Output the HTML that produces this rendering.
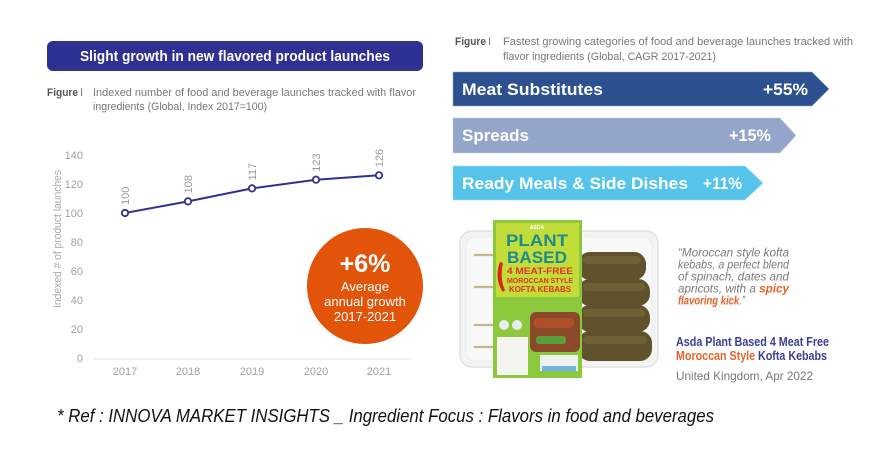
<!DOCTYPE html>
<html><head><meta charset="utf-8"><style>
html,body{margin:0;padding:0;background:#fff;}
svg{display:block;}
text{font-family:"Liberation Sans",sans-serif;}
</style></head><body>
<svg width="878" height="455" viewBox="0 0 878 455" xmlns="http://www.w3.org/2000/svg">
<rect width="878" height="455" fill="#fff"/>
<!-- Banner -->
<rect x="47" y="41" width="376" height="30" rx="6" fill="#2e3192"/>
<text x="235" y="61" fill="#fff" font-size="14.5" font-weight="bold" text-anchor="middle" textLength="310" lengthAdjust="spacingAndGlyphs">Slight growth in new flavored product launches</text>
<!-- Left figure caption -->
<text x="47" y="96" fill="#555" font-size="11" font-weight="bold" textLength="31" lengthAdjust="spacingAndGlyphs">Figure</text>
<text x="80" y="96" fill="#777" font-size="11">I</text>
<text x="93" y="96" fill="#777" font-size="11" textLength="323" lengthAdjust="spacingAndGlyphs">Indexed number of food and beverage launches tracked with flavor</text>
<text x="93" y="110" fill="#777" font-size="11" textLength="174" lengthAdjust="spacingAndGlyphs">ingredients (Global, Index 2017=100)</text>
<!-- Y axis labels -->
<g fill="#a0a0a0" font-size="11" text-anchor="end">
<text x="83" y="159">140</text>
<text x="83" y="188">120</text>
<text x="83" y="217">100</text>
<text x="83" y="246">80</text>
<text x="83" y="275">60</text>
<text x="83" y="304">40</text>
<text x="83" y="333">20</text>
<text x="83" y="362">0</text>
</g>
<text transform="translate(61,239) rotate(-90)" fill="#aaa" font-size="11" text-anchor="middle" textLength="138" lengthAdjust="spacingAndGlyphs">Indexed # of product launches</text>
<line x1="93" y1="359" x2="412" y2="359" stroke="#e4e4e4" stroke-width="1"/>
<g fill="#a0a0a0" font-size="11" text-anchor="middle">
<text x="125" y="375">2017</text>
<text x="188" y="375">2018</text>
<text x="252" y="375">2019</text>
<text x="316" y="375">2020</text>
<text x="379" y="375">2021</text>
</g>
<!-- Line -->
<polyline points="125,213 188,201.4 252,188.4 316,179.7 379,175.3" fill="none" stroke="#2e3192" stroke-width="2"/>
<g fill="#fff" stroke="#2e3192" stroke-width="1.8">
<circle cx="125" cy="213" r="3.2"/>
<circle cx="188" cy="201.4" r="3.2"/>
<circle cx="252" cy="188.4" r="3.2"/>
<circle cx="316" cy="179.7" r="3.2"/>
<circle cx="379" cy="175.3" r="3.2"/>
</g>
<g fill="#999" font-size="11">
<text transform="translate(129,205) rotate(-90)">100</text>
<text transform="translate(192,193.4) rotate(-90)">108</text>
<text transform="translate(256,180.4) rotate(-90)">117</text>
<text transform="translate(320,171.7) rotate(-90)">123</text>
<text transform="translate(383,167.3) rotate(-90)">126</text>
</g>
<!-- Orange circle -->
<circle cx="365" cy="286" r="58" fill="#e1540a"/>
<text x="365" y="272" fill="#fff" font-size="25" font-weight="bold" text-anchor="middle">+6%</text>
<g fill="#fff" font-size="13" text-anchor="middle">
<text x="365" y="291">Average</text>
<text x="365" y="306">annual growth</text>
<text x="365" y="321">2017-2021</text>
</g>
<!-- Right caption -->
<text x="455" y="45" fill="#555" font-size="11" font-weight="bold" textLength="31" lengthAdjust="spacingAndGlyphs">Figure</text>
<text x="488" y="45" fill="#777" font-size="11">I</text>
<text x="503" y="45" fill="#777" font-size="11" textLength="350" lengthAdjust="spacingAndGlyphs">Fastest growing categories of food and beverage launches tracked with</text>
<text x="503" y="60" fill="#777" font-size="11" textLength="213" lengthAdjust="spacingAndGlyphs">flavor ingredients (Global, CAGR 2017-2021)</text>
<!-- Bars -->
<polygon points="453,72 812,72 829,89 812,106 453,106" fill="#2c5090" stroke="#8aa0c8" stroke-width="0.6"/>
<text x="462" y="95" fill="#fff" font-size="17" font-weight="bold" textLength="141" lengthAdjust="spacingAndGlyphs">Meat Substitutes</text>
<text x="808" y="95" fill="#fff" font-size="17" font-weight="bold" text-anchor="end" textLength="45" lengthAdjust="spacingAndGlyphs">+55%</text>
<polygon points="453,118 780,118 796,135.5 780,153 453,153" fill="#93a5c9" stroke="#c3cde2" stroke-width="0.6"/>
<text x="462" y="141" fill="#fff" font-size="17" font-weight="bold" textLength="67" lengthAdjust="spacingAndGlyphs">Spreads</text>
<text x="771" y="141" fill="#fff" font-size="17" font-weight="bold" text-anchor="end" textLength="42" lengthAdjust="spacingAndGlyphs">+15%</text>
<polygon points="453,166 745,166 763,183 745,200 453,200" fill="#56c3ea" stroke="#a6def3" stroke-width="0.6"/>
<text x="462" y="189" fill="#fff" font-size="17" font-weight="bold" textLength="226" lengthAdjust="spacingAndGlyphs">Ready Meals &amp; Side Dishes</text>
<text x="742" y="189" fill="#fff" font-size="17" font-weight="bold" text-anchor="end" textLength="39" lengthAdjust="spacingAndGlyphs">+11%</text>
<!-- Product image -->
<rect x="460" y="231" width="198" height="136" rx="12" fill="#f3f3f3" stroke="#e2e2e2" stroke-width="1.5"/>
<rect x="466" y="237" width="186" height="124" rx="9" fill="#f8f8f8" stroke="#ececec" stroke-width="1"/>
<g stroke="#c8b48e" stroke-width="2.2">
<line x1="474" y1="255" x2="500" y2="255"/>
<line x1="474" y1="287" x2="500" y2="287"/>
<line x1="474" y1="325" x2="500" y2="325"/>
<line x1="474" y1="347" x2="500" y2="347"/>
</g>
<g fill="#5f522d">
<rect x="578" y="252" width="68" height="28" rx="12"/>
<rect x="578" y="279" width="72" height="27" rx="12"/>
<rect x="578" y="305" width="72" height="27" rx="12"/>
<rect x="578" y="331" width="74" height="30" rx="12"/>
</g>
<g fill="#7a6a3c" opacity="0.6">
<rect x="583" y="256" width="58" height="8" rx="4"/>
<rect x="583" y="283" width="62" height="8" rx="4"/>
<rect x="583" y="309" width="62" height="8" rx="4"/>
<rect x="583" y="336" width="64" height="8" rx="4"/>
</g>
<rect x="493" y="220" width="89" height="158" fill="#8cc83c"/>
<rect x="496" y="223" width="83" height="74" fill="#cfe13a" opacity="0.8"/>
<text x="537" y="229" fill="#fff" font-size="5" font-weight="bold" text-anchor="middle">ASDA</text>
<text x="537" y="246" fill="#1e8c8c" font-size="17" font-weight="bold" text-anchor="middle" textLength="62" lengthAdjust="spacingAndGlyphs">PLANT</text>
<text x="537" y="263" fill="#1e8c8c" font-size="17" font-weight="bold" text-anchor="middle" textLength="60" lengthAdjust="spacingAndGlyphs">BASED</text>
<g fill="#e03224" font-weight="bold" text-anchor="middle">
<text x="540" y="274" font-size="9" textLength="66" lengthAdjust="spacingAndGlyphs">4 MEAT-FREE</text>
<text x="540" y="283" font-size="7" textLength="66" lengthAdjust="spacingAndGlyphs">MOROCCAN STYLE</text>
<text x="540" y="292" font-size="8" textLength="62" lengthAdjust="spacingAndGlyphs">KOFTA KEBABS</text>
</g>
<path d="M500,262 C496,272 497,284 503,292 L505,290 C501,282 501,272 503,263 Z" fill="#d8261c"/>
<rect x="530" y="312" width="50" height="40" rx="6" fill="#8a4a2a"/>
<rect x="534" y="318" width="40" height="10" rx="4" fill="#b0502a"/>
<rect x="536" y="336" width="30" height="8" rx="3" fill="#5aa03a"/>
<rect x="497" y="337" width="31" height="38" fill="#f4f4f0"/>
<rect x="540" y="355" width="38" height="16" fill="#eef2ee"/>
<rect x="542" y="366" width="34" height="5" fill="#6fb3e0"/>
<circle cx="504" cy="325" r="5" fill="#e8eef0"/>
<circle cx="517" cy="325" r="5" fill="#e8eef0"/>
<!-- Quote -->
<g fill="#7a7a7a" font-size="11.5" font-style="italic">
<text x="678" y="256.5" textLength="111" lengthAdjust="spacingAndGlyphs">“Moroccan style kofta</text>
<text x="678" y="268.5" textLength="111" lengthAdjust="spacingAndGlyphs">kebabs, a perfect blend</text>
<text x="678" y="280.5" textLength="111" lengthAdjust="spacingAndGlyphs">of spinach, dates and</text>
<text x="678" y="292.5" textLength="111" lengthAdjust="spacingAndGlyphs">apricots, with a <tspan fill="#e8622a" font-weight="bold">spicy</tspan></text>
<text x="678" y="304.5" textLength="67" lengthAdjust="spacingAndGlyphs"><tspan fill="#e8622a" font-weight="bold">flavoring kick</tspan>.”</text>
</g>
<text x="676" y="346" fill="#3a3f96" font-size="12.5" font-weight="bold" textLength="153" lengthAdjust="spacingAndGlyphs">Asda Plant Based 4 Meat Free</text>
<text x="676" y="360" font-size="12.5" font-weight="bold" textLength="151" lengthAdjust="spacingAndGlyphs"><tspan fill="#e8622a">Moroccan Style</tspan><tspan fill="#3a3f96"> Kofta Kebabs</tspan></text>
<text x="676" y="380" fill="#777" font-size="12" textLength="137" lengthAdjust="spacingAndGlyphs">United Kingdom, Apr 2022</text>
<!-- Ref -->
<text x="57" y="422" fill="#111" font-size="18" font-style="italic" textLength="657" lengthAdjust="spacingAndGlyphs">* Ref : INNOVA MARKET INSIGHTS _ Ingredient Focus : Flavors in food and beverages</text>
</svg>
</body></html>
